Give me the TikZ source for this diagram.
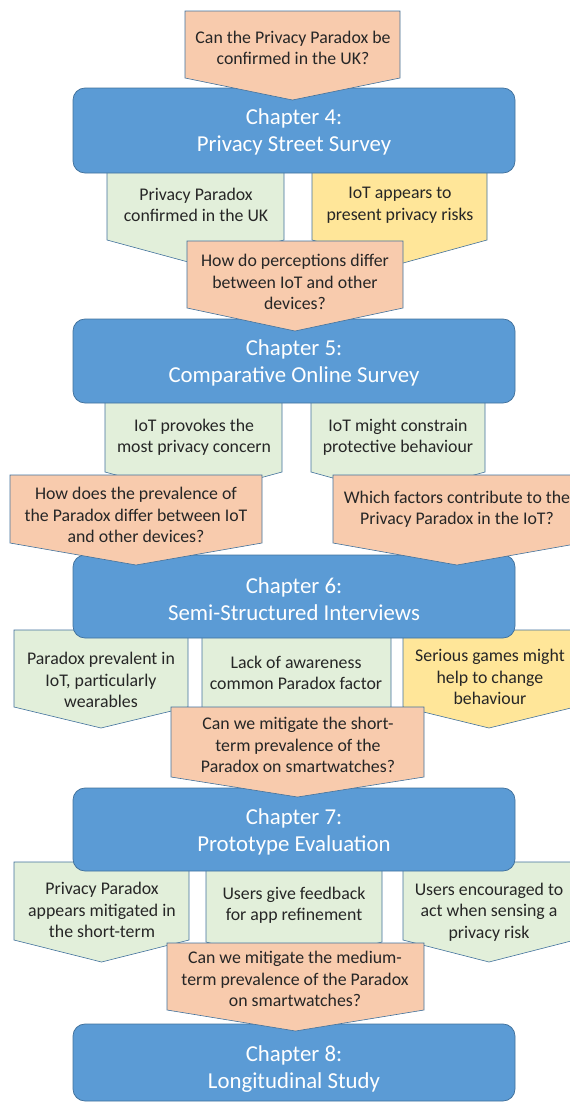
\documentclass[tikz,border=0pt]{standalone}
\usepackage{fontspec}
\setmainfont{Carlito}
\definecolor{chapfill}{HTML}{5B9BD5}
\definecolor{edge}{HTML}{41719C}
\definecolor{qfill}{HTML}{F8CBAD}
\definecolor{gfill}{HTML}{E2EFDA}
\definecolor{yfill}{HTML}{FFE699}
\definecolor{ink}{HTML}{262626}
% downward pointing pentagon: style, left, right, top, shoulder, tip
\newcommand\dnarrow[6]{%
  \draw[#1] (#2,#4) -- (#3,#4) -- (#3,#5) -- ({(#2+#3)/2},#6) -- (#2,#5) -- cycle;}
\tikzset{
  chapbox/.style={fill=chapfill,draw=edge,line width=0.75pt,rounded corners=12pt},
  qbox/.style={fill=qfill,draw=edge,line width=0.6pt},
  gbox/.style={fill=gfill,draw=edge,line width=0.6pt},
  ybox/.style={fill=yfill,draw=edge,line width=0.6pt},
  btext/.style={inner sep=0pt,align=center,text=ink,font=\fontsize{17.8}{21.5}\selectfont},
  ctext/.style={inner sep=0pt,align=center,text=white,font=\fontsize{22.8}{27}\selectfont},
}
\begin{document}
\begin{tikzpicture}[x=1pt,y=-1pt]
\useasboundingbox (0,0) rectangle (570,1104);
\clip (0,0) rectangle (570,1104);
% findings, beneath the chapter boxes
\dnarrow{gbox}{107}{284}{160}{240}{264}
\dnarrow{ybox}{312}{487}{160}{240}{264}
\dnarrow{gbox}{105}{282}{395}{472}{496}
\dnarrow{gbox}{311}{485}{395}{472}{496}
\dnarrow{gbox}{14}{188}{630}{707}{728}
\dnarrow{gbox}{202}{391}{630}{712}{735}
\dnarrow{ybox}{403}{575}{630}{707}{728}
\dnarrow{gbox}{14}{189}{862}{940}{962}
\dnarrow{gbox}{206}{382}{862}{942}{964}
\dnarrow{gbox}{403}{575}{862}{940}{962}
% chapters
\draw[chapbox] (73,88) rectangle (515,173);
\draw[chapbox] (73,319) rectangle (515,403);
\draw[chapbox] (73,555) rectangle (515,638);
\draw[chapbox] (73,788) rectangle (515,871);
\draw[chapbox] (73,1024) rectangle (515,1101);
% research questions
\dnarrow{qbox}{185}{400}{11}{78}{100}
\dnarrow{qbox}{187}{403}{241}{308}{331}
\dnarrow{qbox}{10}{262}{475}{543}{565}
\dnarrow{qbox}{333}{581}{475}{543}{565}
\dnarrow{qbox}{171}{424}{707}{777}{797}
\dnarrow{qbox}{167}{424}{943}{1010}{1031}
% texts
\node[btext] (q1) at (293,48) {Can the Privacy Paradox be\\confirmed in the UK?};
\node[ctext] (c4) at (294,132) {Chapter 4:\\Privacy Street Survey};
\node[btext] (f4a) at (196,205) {Privacy Paradox\\confirmed in the UK};
\node[btext] (f4b) at (400,205) {IoT appears to\\present privacy risks};
\node[btext] (q2) at (295,282) {How do perceptions differ\\between IoT and other\\devices?};
\node[ctext] (c5) at (294,363) {Chapter 5:\\Comparative Online Survey};
\node[btext] (f5a) at (194,437) {IoT provokes the\\most privacy concern};
\node[btext] (f5b) at (398,437) {IoT might constrain\\protective behaviour};
\node[btext] (q3) at (136,515) {How does the prevalence of\\the Paradox differ between IoT\\and other devices?};
\node[btext] (q4) at (457,509) {Which factors contribute to the\\Privacy Paradox in the IoT?};
\node[ctext] (c6) at (294,599) {Chapter 6:\\Semi-Structured Interviews};
\node[btext] (f6a) at (101,680) {Paradox prevalent in\\IoT, particularly\\wearables};
\node[btext] (f6b) at (296,673) {Lack of awareness\\common Paradox factor};
\node[btext] (f6c) at (490,677) {Serious games might\\help to change\\behaviour};
\node[btext] (q5) at (298,745) {Can we mitigate the short-\\term prevalence of the\\Paradox on smartwatches?};
\node[ctext] (c7) at (294,832) {Chapter 7:\\Prototype Evaluation};
\node[btext] (f7a) at (102,910) {Privacy Paradox\\appears mitigated in\\the short-term};
\node[btext] (f7b) at (294,905) {Users give feedback\\for app refinement};
\node[btext] (f7c) at (489,912) {Users encouraged to\\act when sensing a\\privacy risk};
\node[btext] (q6) at (295,979) {Can we mitigate the medium-\\term prevalence of the Paradox\\on smartwatches?};
\node[ctext] (c8) at (294,1069) {Chapter 8:\\Longitudinal Study};
\end{tikzpicture}
\end{document}
